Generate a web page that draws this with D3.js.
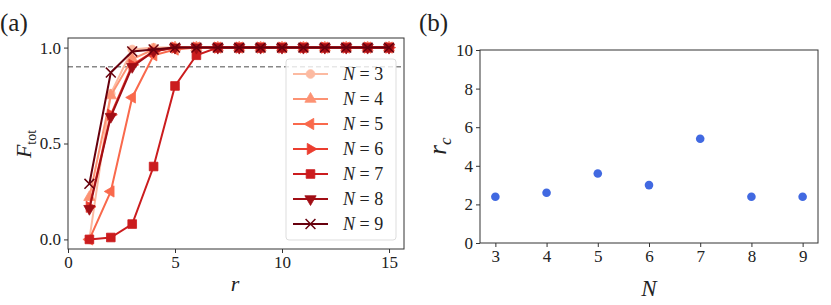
<!DOCTYPE html>
<html><head><meta charset="utf-8">
<script src="https://cdn.jsdelivr.net/npm/d3@7"></script>
<style>body{margin:0;background:#fff}svg{display:block}text{font-family:"Liberation Serif","DejaVu Serif",serif;fill:#222}</style>
</head><body><svg id="c" width="831" height="305"></svg>
<script>
const rVals = [1,2,3,4,5,6,7,8,9,10,11,12,13,14,15];
const seriesN = [3,4,5,6,7,8,9];
const F3 = [0.00,0.76,0.99,1,1,1,1,1,1,1,1,1,1,1,1];
const F4 = [0.22,0.75,0.94,0.99,1,1,1,1,1,1,1,1,1,1,1];
const F5 = [0.00,0.25,0.74,0.96,0.99,1,1,1,1,1,1,1,1,1,1];
const F6 = [0.17,0.65,0.91,0.98,1,1,1,1,1,1,1,1,1,1,1];
const F7 = [0.00,0.01,0.08,0.38,0.80,0.96,1,1,1,1,1,1,1,1,1];
const F8 = [0.16,0.64,0.90,0.98,1,1,1,1,1,1,1,1,1,1,1];
const F9 = [0.29,0.87,0.98,0.99,1,1,1,1,1,1,1,1,1,1,1];
const Fseries = [F3,F4,F5,F6,F7,F8,F9];
const threshold = 0.9;
const xTicksA = [0,5,10,15];
const yTicksA = [0.0,0.5,1.0];
const Ncat = [3,4,5,6,7,8,9];
const rc = [2.4,2.6,3.6,3.0,5.4,2.4,2.4];
const yTicksB = [0,2,4,6,8,10];

const svg = d3.select("#c");
const axisCol = "#333";
const fs = 17;
const FF = "Liberation Serif";

// ---------- Panel (a)
const A = {l:68, r:404, t:38, b:249};
const xa = d3.scaleLinear().domain([0,15.7]).range([A.l,A.r]);
const ya = d3.scaleLinear().domain([-0.05,1.05]).range([A.b,A.t]);
const ga = svg.append("g");
const colors = seriesN.map((n,i)=>d3.interpolateReds(0.25 + i*0.75/6));
const shapes = [
  {t:d3.symbolCircle, rot:0, s:60},
  {t:d3.symbolTriangle, rot:0, s:55},
  {t:d3.symbolTriangle, rot:-90, s:55},
  {t:d3.symbolTriangle, rot:90, s:55},
  {t:d3.symbolSquare, rot:0, s:75},
  {t:d3.symbolTriangle, rot:180, s:55},
  {t:d3.symbolX, rot:0, s:65, stroke:true}
];
ga.append("line").attr("x1",A.l).attr("x2",A.r).attr("y1",ya(threshold)).attr("y2",ya(threshold))
  .attr("stroke","#888").attr("stroke-width",1.4).attr("stroke-dasharray","5,3");
const line = d3.line().x((d,i)=>xa(rVals[i])).y(d=>ya(d));
function drawMarker(g, sh, col, x, y){
  const p = d3.symbol().type(sh.t).size(sh.s)();
  const m = g.append("path").attr("d",p).attr("transform",`translate(${x},${y}) rotate(${sh.rot})`);
  if(sh.stroke) m.attr("fill","none").attr("stroke",col).attr("stroke-width",1.5);
  else m.attr("fill",col).attr("stroke",col).attr("stroke-width",0.8);
}
Fseries.forEach((F,i)=>{
  const g = ga.append("g");
  g.append("path").attr("d",line(F)).attr("fill","none").attr("stroke",colors[i]).attr("stroke-width",2);
  F.forEach((v,j)=>drawMarker(g, shapes[i], colors[i], xa(rVals[j]), ya(v)));
});
ga.append("rect").attr("x",A.l).attr("y",A.t).attr("width",A.r-A.l).attr("height",A.b-A.t)
  .attr("fill","none").attr("stroke",axisCol).attr("stroke-width",1);
const axA = ga.append("g").attr("transform",`translate(0,${A.b})`)
  .call(d3.axisBottom(xa).tickValues(xTicksA).tickSize(4).tickPadding(3).tickFormat(d3.format("d")));
const ayA = ga.append("g").attr("transform",`translate(${A.l},0)`)
  .call(d3.axisLeft(ya).tickValues(yTicksA).tickSize(4).tickPadding(3).tickFormat(d3.format(".1f")));
[axA,ayA].forEach(a=>{a.select(".domain").remove(); a.selectAll("line").attr("stroke",axisCol);
  a.selectAll("text").attr("font-size",fs).attr("font-family",FF).attr("fill","#222");});
// legend
const L = {x:286, y:59, w:110, h:181};
const lg = ga.append("g");
lg.append("rect").attr("x",L.x).attr("y",L.y).attr("width",L.w).attr("height",L.h).attr("rx",3)
  .attr("fill","rgba(255,255,255,0.8)").attr("stroke","#ddd").attr("stroke-width",1);
seriesN.forEach((n,i)=>{
  const yy = 74 + i*25;
  lg.append("line").attr("x1",293).attr("x2",328).attr("y1",yy).attr("y2",yy).attr("stroke",colors[i]).attr("stroke-width",2);
  drawMarker(lg, shapes[i], colors[i], 310.5, yy);
  const t = lg.append("text").attr("x",343).attr("y",yy+6).attr("font-size",fs+1);
  t.append("tspan").attr("font-style","italic").text("N");
  t.append("tspan").text(" = " + n);
});
ga.append("text").attr("x",235).attr("y",291).attr("font-size",22).attr("font-style","italic").attr("text-anchor","middle").text("r");
const fl = ga.append("text").attr("transform","translate(31,144) rotate(-90)").attr("text-anchor","middle").attr("font-size",22);
fl.append("tspan").attr("font-style","italic").text("F");
fl.append("tspan").attr("font-size",14).attr("dy",5).text("tot");
svg.append("text").attr("x",0).attr("y",31).attr("font-size",25).text("(a)");

// ---------- Panel (b)
const B = {l:480, r:818, t:50, b:243};
const xb = d3.scaleLinear().domain([2.7,9.3]).range([B.l,B.r]);
const yb = d3.scaleLinear().domain([0,10]).range([B.b,B.t]);
const gb = svg.append("g");
gb.selectAll("circle.pt").data(Ncat).enter().append("circle")
  .attr("cx",d=>xb(d)).attr("cy",(d,i)=>yb(rc[i])).attr("r",4.3).attr("fill","#4169e1");
gb.append("rect").attr("x",B.l).attr("y",B.t).attr("width",B.r-B.l).attr("height",B.b-B.t)
  .attr("fill","none").attr("stroke",axisCol).attr("stroke-width",1);
const axB = gb.append("g").attr("transform",`translate(0,${B.b})`)
  .call(d3.axisBottom(xb).tickValues(Ncat).tickSize(4).tickPadding(3).tickFormat(d3.format("d")));
const ayB = gb.append("g").attr("transform",`translate(${B.l},0)`)
  .call(d3.axisLeft(yb).tickValues(yTicksB).tickSize(4).tickPadding(3).tickFormat(d3.format("d")));
[axB,ayB].forEach(a=>{a.select(".domain").remove(); a.selectAll("line").attr("stroke",axisCol);
  a.selectAll("text").attr("font-size",fs).attr("font-family",FF).attr("fill","#222");});
gb.append("text").attr("x",649).attr("y",296).attr("font-size",23).attr("font-style","italic").attr("text-anchor","middle").text("N");
const rl = gb.append("text").attr("transform","translate(446,146) rotate(-90)").attr("text-anchor","middle").attr("font-size",25);
rl.append("tspan").attr("font-style","italic").text("r");
rl.append("tspan").attr("font-style","italic").attr("font-size",17).attr("dy",5).text("c");
svg.append("text").attr("x",419).attr("y",31).attr("font-size",25).text("(b)");
</script></body></html>
